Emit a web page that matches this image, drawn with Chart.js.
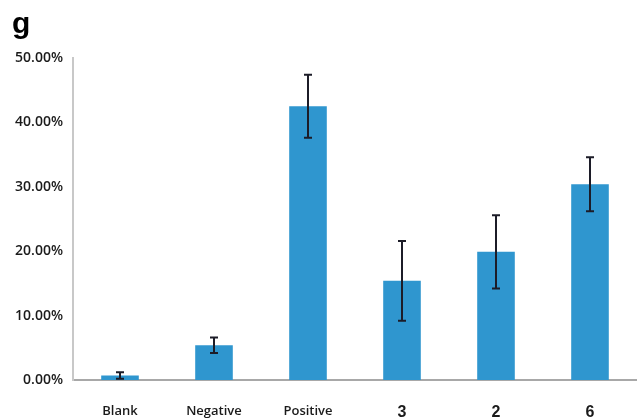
<!DOCTYPE html>
<html>
<head>
<meta charset="utf-8">
<script src="https://cdn.jsdelivr.net/npm/chart.js@4"></script>
<style>
html,body{margin:0;padding:0;background:#fff;}
#wrap{position:relative;width:637px;height:420px;}
#lbl{position:absolute;left:12px;top:6px;font:bold 30px "Liberation Sans",Arial,sans-serif;color:#000;}
</style>
</head>
<body>
<div id="wrap">
<canvas id="c" width="637" height="420"></canvas>
<div id="lbl">g</div>
</div>
<script>
const categories = ["Blank","Negative","Positive","3","2","6"];
const values = [0.7, 5.4, 42.5, 15.4, 19.9, 30.4];
const errors = [0.5, 1.2, 4.9, 6.2, 5.7, 4.2];
const yTicks = [0, 10, 20, 30, 40, 50];

const errorBarPlugin = {
  id: 'errorBars',
  afterDatasetsDraw(chart) {
    const ctx = chart.ctx;
    const meta = chart.getDatasetMeta(0);
    const ys = chart.scales.y;
    ctx.save();
    ctx.strokeStyle = '#1c1c28';
    ctx.lineWidth = 2;
    meta.data.forEach((bar, i) => {
      const x = bar.x;
      const top = ys.getPixelForValue(values[i] + errors[i]);
      const bot = ys.getPixelForValue(values[i] - errors[i]);
      ctx.beginPath();
      ctx.moveTo(x, top); ctx.lineTo(x, bot);
      ctx.moveTo(x - 4, top); ctx.lineTo(x + 4, top);
      ctx.moveTo(x - 4, bot); ctx.lineTo(x + 4, bot);
      ctx.stroke();
    });
    ctx.restore();
  }
};

new Chart(document.getElementById('c'), {
  type: 'bar',
  data: {
    labels: categories,
    datasets: [{
      data: values,
      backgroundColor: '#2f96cf',
      borderWidth: 0,
      barPercentage: 0.4,
      categoryPercentage: 1.0
    }]
  },
  options: {
    responsive: false,
    animation: false,
    layout: { padding: { top: 58, right: 0, left: 0, bottom: 0 } },
    plugins: { legend: { display: false }, tooltip: { enabled: false } },
    scales: {
      x: {
        grid: { display: false, drawTicks: false },
        border: { color: '#a8a8a8', width: 2 },
        ticks: {
          padding: 23,
          color: '#1a1a1a',
          font: (c) => {
            const i = c.index;
            if (i >= 3) return { family: '"Liberation Sans", Arial, sans-serif', size: 16, weight: 'bold' };
            return { family: '"Open Sans", sans-serif', size: 13, weight: '600' };
          }
        },
        afterFit(s) { s.height = 40; }
      },
      y: {
        min: 0, max: 50,
        afterBuildTicks(s) { s.ticks = yTicks.map(v => ({ value: v })); },
        grid: { display: false, drawOnChartArea: false, drawTicks: true, tickLength: 4, color: '#a8a8a8' },
        border: { color: '#c8c8c8', width: 2 },
        ticks: {
          padding: 6,
          color: '#1a1a1a',
          font: { family: '"Open Sans", sans-serif', size: 14, weight: '600' },
          callback: (v) => v.toFixed(2) + '%'
        },
        afterFit(s) { s.width = 73; }
      }
    }
  },
  plugins: [errorBarPlugin]
});
</script>
</body>
</html>
